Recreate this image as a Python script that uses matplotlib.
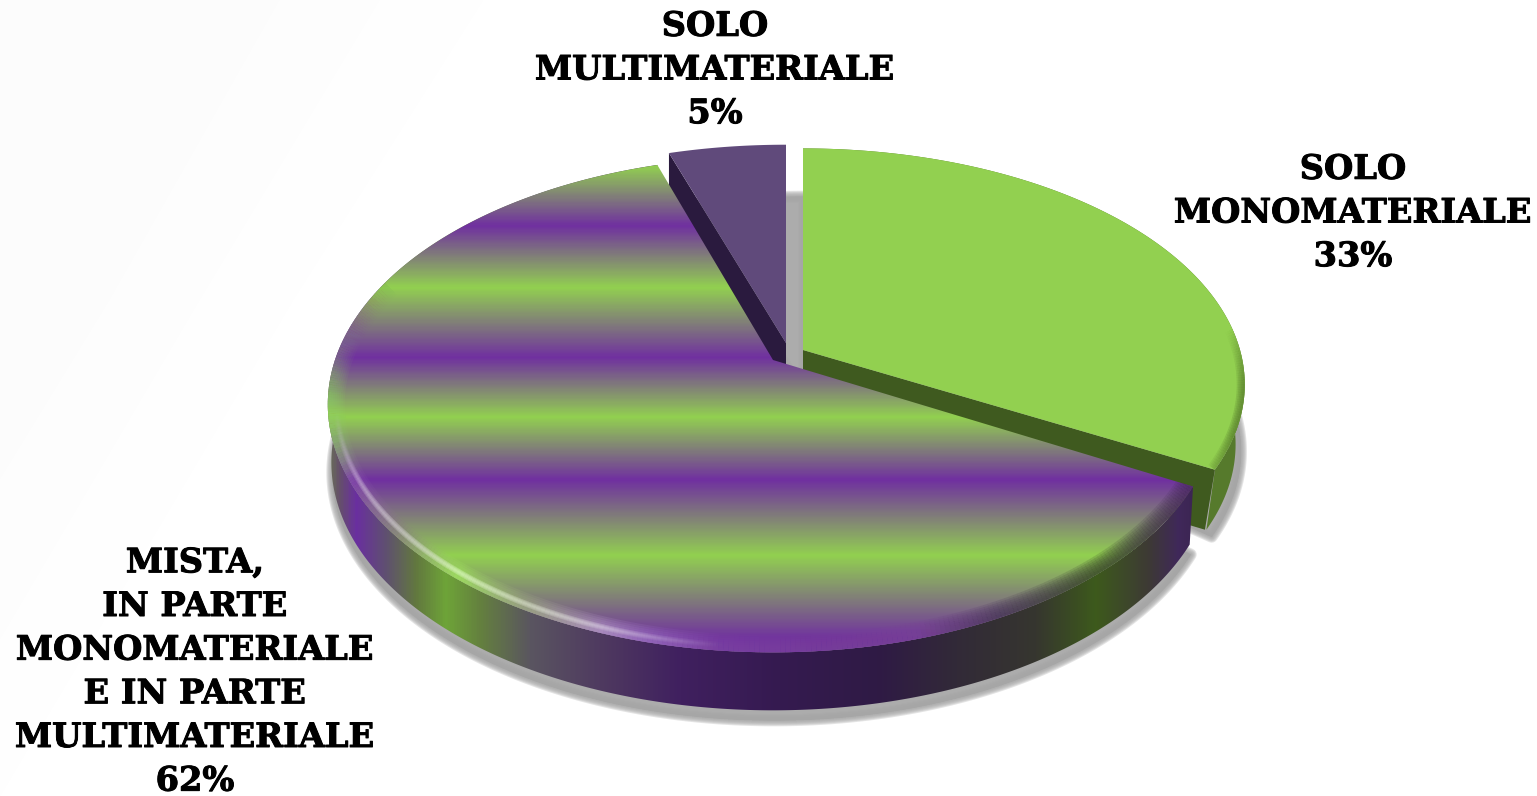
import numpy as np
import matplotlib
matplotlib.use("Agg")
import matplotlib.pyplot as plt
import matplotlib.patheffects as pe
from matplotlib.collections import LineCollection
from matplotlib.colors import LinearSegmentedColormap, to_rgb
from matplotlib.patches import Polygon

values = [33, 62, 5]
labels = [
    "SOLO\nMONOMATERIALE\n33%",
    "MISTA,\nIN PARTE\nMONOMATERIALE\nE IN PARTE\nMULTIMATERIALE\n62%",
    "SOLO\nMULTIMATERIALE\n5%",
]
label_pos = [(1353, 213), (195, 672), (715, 70)]

GREEN = "#92d050"
PURPLE = "#7030a0"

# horizontal bands on the big slice: y pixel, colour
band_y = [100, 165, 225, 287, 357, 417, 480, 556, 640, 700]
band_c = [PURPLE, GREEN, PURPLE, GREEN, PURPLE, GREEN, PURPLE, GREEN, PURPLE, PURPLE]

# side wall of the big slice: x pixel, colour
side_x = [325, 338, 355, 385, 415, 445, 480, 530, 600, 680, 780, 878, 957, 1037, 1097, 1150, 1180, 1200]
side_c = ["#6a7a50", "#65506a", "#6a2fa0", "#5f5070", "#62783f", "#6ea438", "#64803f", "#5a5560",
          "#4f3a60", "#40205f", "#351a50", "#2f1a45", "#322a38", "#36362f", "#3d5a1c", "#3d3a35",
          "#40285a", "#3a2450"]

# bevel along the rim of the big slice
rim_x = [325, 350, 400, 455, 520, 600, 650, 720, 820, 920, 1000, 1100, 1195]
rim_c = ["#90e060", "#8a50b0", "#8c8a80", "#a4e860", "#a0b080", "#b8a0c8", "#9a70c0", "#7c44a0",
         "#7a409a", "#7a4496", "#4a3a58", "#3a4a28", "#4a2a60"]

# slice geometry in pixels: apex x, apex y, a, b, k
geo_green = (803, 350, 437, 231, 0.146)
geo_purple = (773, 360, 438, 240, 0.179)
geo_dark = (786, 343, 440, 232, 0.170)
DEPTH = 58


def project(theta, geo, depth=0.0, shrink=0.02):
    cx, cy, a, b, k = geo
    x, y = np.cos(theta), np.sin(theta)
    w = 1 + k * y
    s = 1 - shrink * depth / DEPTH
    return np.column_stack([cx + a * s * x / w, cy + depth - b * y / w])


def gradient_cmap(stops, colors, lo, hi):
    pos = (np.array(stops, dtype=float) - lo) / (hi - lo)
    return LinearSegmentedColormap.from_list("g", list(zip(pos, colors)), N=512)


def shadow(ax, pts, dx, dy):
    shifted = pts + [dx, dy]
    for lw in [12, 10, 8, 6, 4, 2, 0.5]:
        ax.add_patch(Polygon(shifted, closed=True, fc="#a6a6a6", ec="#a6a6a6", lw=lw * 0.72,
                             alpha=0.3, joinstyle="round", zorder=1))


def rim(ax, theta, geo, clip, color_at, widths, strength):
    pts = project(theta, geo)
    segs = np.stack([pts[:-1], pts[1:]], axis=1)
    mid = (pts[:-1] + pts[1:]) / 2
    t = (theta[:-1] + theta[1:]) / 2
    weight = np.clip(0.35 - np.sin(t), 0, 1)
    cols = color_at(mid[:, 0])
    cols[:, 3] = weight * strength
    for lw in widths:
        lc = LineCollection(segs, colors=cols, linewidths=lw * 0.72, capstyle="butt", zorder=clip.get_zorder() + 1)
        ax.add_collection(lc)
        lc.set_clip_path(clip)


fig = plt.figure(figsize=(15.37, 7.96), dpi=100, facecolor="white")
ax = fig.add_axes([0, 0, 1, 1])
W, H = 1537, 796

# faint swoosh in the background
ax.fill([0, 280, 110, 0], [0, 0, 300, 480], color="#fcfcfc", lw=0, zorder=0)
ax.fill([280, 380, 200, 0, 0, 110], [0, 0, 300, 640, 480, 300], color="#fdfdfd", lw=0, zorder=0)
ax.fill([380, 483, 293, 0, 0, 200], [0, 0, 300, 796, 640, 300], color="#fefefe", lw=0, zorder=0)

# slice angles, clockwise from the top
fracs = np.array(values, dtype=float) / sum(values)
edges = np.pi / 2 - 2 * np.pi * np.concatenate([[0], np.cumsum(fracs)])
th_green = np.linspace(edges[0], edges[1], 200)
th_purple = np.linspace(edges[1], edges[2], 400)
th_dark = np.linspace(edges[2], edges[3], 40)

top_green = np.vstack([[geo_green[:2]], project(th_green, geo_green)])
top_purple = np.vstack([[geo_purple[:2]], project(th_purple, geo_purple)])
top_dark = np.vstack([[geo_dark[:2]], project(th_dark, geo_dark)])

side_green = np.vstack([project(th_green, geo_green), project(th_green, geo_green, DEPTH + 2)[::-1]])
side_purple = np.vstack([project(th_purple, geo_purple), project(th_purple, geo_purple, DEPTH, 0.008)[::-1]])

# shadows on the floor
shadow(ax, np.vstack([[geo_green[:2]], project(th_green, geo_green, DEPTH)]), 5, 9)
shadow(ax, np.vstack([[geo_purple[:2]], project(th_purple, geo_purple, DEPTH, 0.008)]), 1, 10)
shadow(ax, top_dark, 18, DEPTH - 6)

# green slice
ax.add_patch(Polygon(side_green, closed=True, fc="#567a2c", ec="none", zorder=2))
wall = np.array([top_green[0], top_green[-1], top_green[-1] + [-10, DEPTH + 2], top_green[0] + [0, DEPTH + 2]])
ax.add_patch(Polygon(wall, closed=True, fc="#3f5a1f", ec="none", zorder=2.1))
p_green = Polygon(top_green, closed=True, fc=GREEN, ec="none", zorder=3)
ax.add_patch(p_green)
green_dark = to_rgb("#567a2c")
rim_pts = project(th_green, geo_green)
rim_segs = np.stack([rim_pts[:-1], rim_pts[1:]], axis=1)
rim_w = np.clip((0.35 - np.abs(th_green[:-1] + 0.25)) * 4.0, 0, 1)
for lw in [16, 13, 10, 7, 4]:
    lc = LineCollection(rim_segs, colors=[green_dark + (v * 0.22,) for v in rim_w], linewidths=lw * 0.72, zorder=4)
    ax.add_collection(lc)
    lc.set_clip_path(p_green)

# small dark slice
wall = np.array([top_dark[1], top_dark[0], top_dark[0] + [0, DEPTH], top_dark[1] + [0, DEPTH]])
ax.add_patch(Polygon(wall, closed=True, fc="#2a1a3e", ec="none", zorder=5))
ax.add_patch(Polygon(top_dark, closed=True, fc="#604a7b", ec="none", zorder=6))

# big striped slice
cm_side = gradient_cmap(side_x, side_c, 325, 1200)
p_side = Polygon(side_purple, closed=True, fc="none", ec="none", zorder=7)
ax.add_patch(p_side)
im = ax.imshow(np.linspace(0, 1, 875)[None, :], extent=[325, 1200, H, 0], cmap=cm_side, aspect="auto", zorder=7)
im.set_clip_path(p_side)

cm_band = gradient_cmap(band_y, band_c, 100, 700)
p_top = Polygon(top_purple, closed=True, fc="none", ec="none", zorder=8)
ax.add_patch(p_top)
im = ax.imshow(np.linspace(0, 1, 600)[:, None], extent=[0, W, 700, 100], cmap=cm_band, aspect="auto", zorder=8)
im.set_clip_path(p_top)

cm_rim = gradient_cmap(rim_x, rim_c, 325, 1195)
rim_color = lambda x: np.array(cm_rim(np.clip((x - 325) / 870, 0, 1)))
rim(ax, th_purple, geo_purple, p_top, rim_color, [34, 30, 26, 22, 18, 14, 10, 6], 0.18)

# thin highlight on the bevel
hl = np.radians(np.linspace(-168, -95, 120))
pts = project(hl, geo_purple)
pts = pts - (pts - geo_purple[:2]) * 0.02
segs = np.stack([pts[:-1], pts[1:]], axis=1)
cols = np.array(cm_rim(np.clip((pts[:-1, 0] - 325) / 870, 0, 1)))
cols[:, :3] = cols[:, :3] * 0.5 + 0.5
cols[:, 3] = np.sin(np.linspace(0, np.pi, len(segs))) * 0.45
for lw in [6, 4, 2]:
    ax.add_collection(LineCollection(segs, colors=cols, linewidths=lw * 0.72, zorder=10))

for text, (x, y) in zip(labels, label_pos):
    ax.text(x, y, text, ha="center", va="center", ma="center", family="DejaVu Serif", weight="bold",
            fontsize=24.2, linespacing=1.41, color="black", zorder=12,
            path_effects=[pe.withStroke(linewidth=0.7, foreground="black")])

ax.set_xlim(0, W)
ax.set_ylim(H, 0)
ax.axis("off")
fig.savefig("out.png", dpi=100, facecolor="white")
